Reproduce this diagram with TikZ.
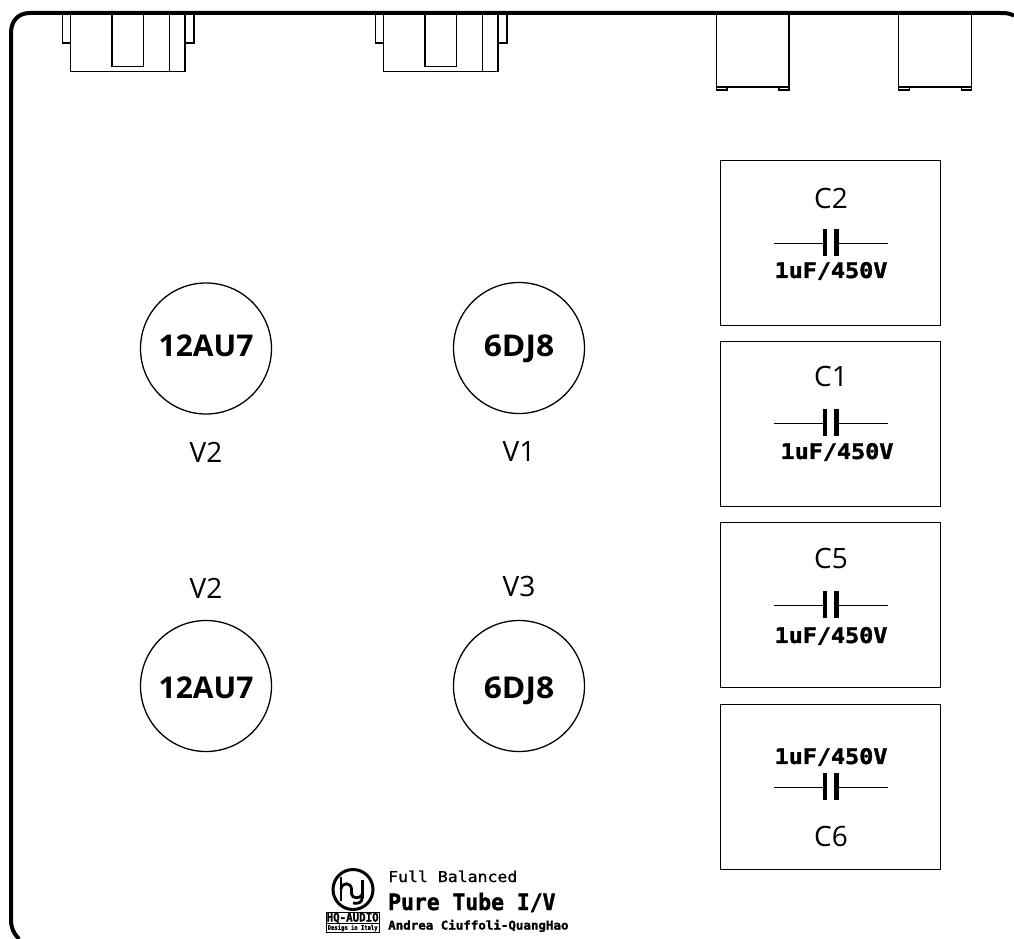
\documentclass[tikz,border=0pt]{standalone}
\usepackage{fontspec}
\setmainfont{Open Sans}
\newfontfamily\pixb[FakeBold=1.6]{DejaVu Sans Mono Bold}
\newfontfamily\pixr[FakeBold=0.9]{DejaVu Sans Mono}
\tikzset{
  x=1pt,y=-1pt,
  frameline/.style={line width=4pt,line cap=butt},
  part/.style={draw,line width=1.1pt},
  partbox/.style={draw,line width=1pt,anchor=north west,inner sep=0pt,outer sep=0pt},
  tube/.style={draw,circle,line width=1.3pt,minimum size=131pt,inner sep=0pt,text height=20pt,text depth=4pt,font=\fontsize{30}{32}\selectfont\bfseries},
  lowtube/.style={tube,text height=24pt,text depth=0pt},
  lab/.style={font=\fontsize{28}{30}\selectfont,inner sep=0pt},
  wire/.style={draw,line width=1pt},
  plate/.style={draw,line width=4.4pt},
  val/.style={inner sep=0pt,font=\pixb\fontsize{21.5}{24}\selectfont},
  logotxt/.style={inner sep=0pt,anchor=base west},
  logopen/.style={line width=2.8pt},
}
\newcommand{\capsym}[3]{% x-center, y, name
  \coordinate (#3a) at (#1-56,#2);
  \coordinate (#3b) at (#1+58,#2);
  \coordinate (#3l) at (#1-5,#2);
  \coordinate (#3r) at (#1+6.4,#2);
  \draw[wire] (#3a) -- (#3l);
  \draw[wire] (#3r) -- (#3b);
  \draw[plate] (#1-5,#2-14) -- (#1-5,#2+13);
  \draw[plate] (#1+6.4,#2-14) -- (#1+6.4,#2+13);
}
\newcommand{\valtext}{\scalebox{1.09}[1]{1uF/450V}}
\begin{document}
\begin{tikzpicture}
\useasboundingbox (0,0) rectangle (1014,939);
% frame
\draw[frameline] (1014,15.5) .. controls (1008,13) and (1006,13) .. (1000,13) -- (30,13)
  .. controls (18,13) and (11,21) .. (11,33) -- (11,920)
  .. controls (11,928) and (14,934) .. (19,939);
% connectors top left
\foreach \dx in {0,313}{
  \begin{scope}[shift={(\dx,0)}]
  \draw[part] (70.5,15) -- (70.5,71.5) -- (185,71.5) -- (185,15);
  \draw[part] (112,15) -- (112,66.5) -- (143.5,66.5) -- (143.5,15);
  \draw[part] (169.5,15) -- (169.5,71.5);
  \draw[part] (62.5,15) -- (62.5,43) -- (70.5,43);
  \draw[part] (185,43) -- (194,43) -- (194,15);
  \end{scope}
}
% jacks
\foreach \dx in {0,182.3}{
  \begin{scope}[shift={(\dx,0)}]
  \draw[part] (716.5,15) -- (716.5,87) -- (789,87) -- (789,15);
  \draw[part] (716.5,87) -- (716.5,90) -- (727,90) -- (727,87);
  \draw[part] (779,87) -- (779,90) -- (789,90) -- (789,87);
  \end{scope}
}
% capacitor boxes
\node[partbox,minimum width=220pt,minimum height=165pt] (bc2) at (720,160) {};
\node[partbox,minimum width=220pt,minimum height=165pt] (bc1) at (720,341) {};
\node[partbox,minimum width=220pt,minimum height=165pt] (bc5) at (720,522) {};
\node[partbox,minimum width=220pt,minimum height=165pt] (bc6) at (720,704) {};
\node[lab] (c2) at (831,198) {C2};
\node[lab] (c1) at (831,376) {C1};
\node[lab] (c5) at (831,558) {C5};
\node[lab] (c6) at (831,836) {C6};
\capsym{830}{243}{k2}
\capsym{830}{423}{k1}
\capsym{830}{605}{k5}
\capsym{830}{787}{k6}
\node[val] (v2) at (831,271) {\valtext};
\node[val] (v1) at (837,452) {\valtext};
\node[val] (v5) at (831,636) {\valtext};
\node[val] (v6) at (831,757) {\valtext};
% tubes
\node[tube] (t1) at (206,348.5) {12AU7};
\node[tube] (t2) at (519,348) {\scalebox{1.06}[1]{6DJ8}};
\node[lowtube] (t3) at (206,686) {12AU7};
\node[lowtube] (t4) at (519,686) {\scalebox{1.06}[1]{6DJ8}};
\node[lab] (l1) at (206,452) {V2};
\node[lab] (l2) at (519,452) {V1};
\node[lab] (l3) at (206,588) {V2};
\node[lab] (l4) at (519,586) {V3};
% logo
\node[draw,circle,line width=3pt,minimum size=40pt,inner sep=0pt] (logo) at (353,889.5) {};
\draw[logopen] (341,877) -- (341,901);
\draw[logopen] (341,889) .. controls (342,882) and (351,882) .. (351.5,889) -- (351.5,894) .. controls (352,899) and (361,899) .. (362.5,894);
\draw[logopen] (362.5,880) -- (362.5,897) .. controls (362,903) and (358,904) .. (353,903);
\node[draw,line width=1.3pt,minimum width=53pt,minimum height=10.5pt,inner sep=0pt,anchor=north west,font=\pixb\fontsize{12}{13}\selectfont] (hq) at (325.5,912) {\scalebox{0.9}[1]{HQ-AUDIO}};
\node[draw,line width=1.3pt,minimum width=53pt,minimum height=9.5pt,inner sep=0pt,anchor=north west,font=\pixb\fontsize{6.5}{7}\selectfont] (dsg) at (325.5,922.5) {\scalebox{0.85}[1]{Design in Italy}};
\node[logotxt,font=\pixr\fontsize{15}{16}\selectfont] (t1x) at (388,882) {\scalebox{1.1}[1]{Full Balanced}};
\node[logotxt,font=\pixb\fontsize{22.5}{24}\selectfont] (t2x) at (388,910) {\scalebox{0.95}[1]{Pure Tube I/V}};
\node[logotxt,font=\pixb\fontsize{12}{13}\selectfont] (t3x) at (388,929.5) {\scalebox{1.04}[1]{Andrea Ciuffoli-QuangHao}};
\end{tikzpicture}
\end{document}
